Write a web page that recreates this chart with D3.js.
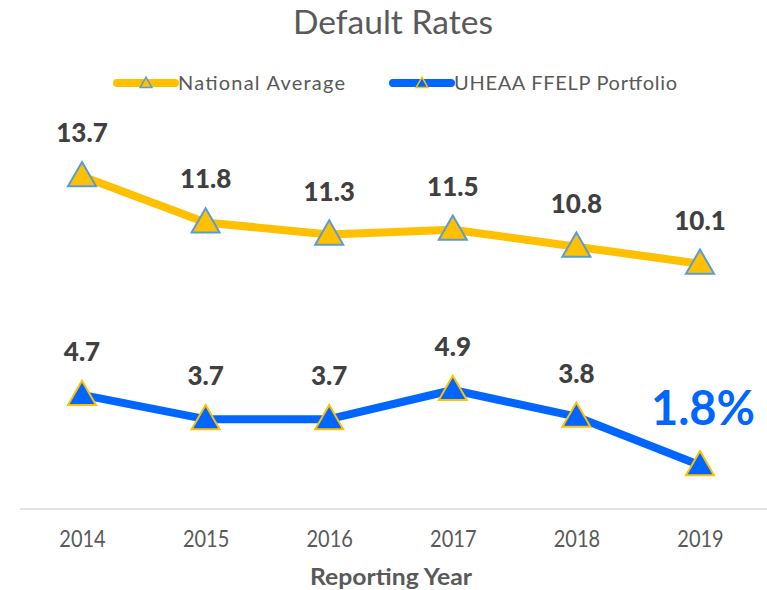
<!DOCTYPE html>
<html><head><meta charset="utf-8">
<script src="https://cdn.jsdelivr.net/npm/d3@7"></script>
<style>body{margin:0;background:#fff}svg{display:block}</style>
</head><body>
<svg id="c" width="767" height="590"></svg>
<script>
const years = ["2014","2015","2016","2017","2018","2019"];
const nationalAverage = [13.7, 11.8, 11.3, 11.5, 10.8, 10.1];
const uheaaPortfolio = [4.7, 3.7, 3.7, 4.9, 3.8, 1.8];
const seriesNames = ["National Average", "UHEAA FFELP Portfolio"];

const W = 767, H = 590;
const svg = d3.select("#c");
const font = "Lato, 'Open Sans', sans-serif";
const YEL = "#FFC000", BLU = "#0066FF", TRI_Y = "#5B9BD5";

const x = d3.scalePoint().domain(years).range([82, 700]);
const y = d3.scaleLinear().domain([0, 16]).range([509, 120.4]);

// baseline
svg.append("line").attr("x1", 20).attr("x2", 767).attr("y1", y(0)).attr("y2", y(0))
  .attr("stroke", "#d9d9d9").attr("stroke-width", 1.5);

// x axis labels
const xAxis = d3.axisBottom(x).tickSize(0).tickPadding(0);
const gx = svg.append("g").attr("transform", `translate(0,${y(0)})`).call(xAxis);
gx.select(".domain").remove();
gx.selectAll("text").attr("font-family", font).attr("font-size", 20).attr("fill", "#595959")
  .attr("dy", null).attr("y", 0)
  .attr("transform", "translate(0,38) scale(1,1.15)");

svg.append("text").attr("x", 391).attr("y", 585).attr("text-anchor", "middle")
  .attr("font-family", font).attr("font-size", 22).attr("font-weight", "bold")
  .attr("textLength", 162).attr("lengthAdjust", "spacingAndGlyphs")
  .attr("fill", "#595959").text("Reporting Year");

// title
svg.append("text").attr("x", 393).attr("y", 34).attr("text-anchor", "middle")
  .attr("font-family", font).attr("font-size", 33).attr("textLength", 200)
  .attr("lengthAdjust", "spacingAndGlyphs").attr("fill", "#595959").text("Default Rates");

const line = d3.line().x((d, i) => x(years[i])).y(d => y(d));
const tri = d3.symbol().type(d3.symbolTriangle).size(340);
const triSmall = d3.symbol().type(d3.symbolTriangle).size(60);

function series(vals, color, markStroke) {
  svg.append("path").datum(vals).attr("d", line).attr("fill", "none")
    .attr("stroke", color).attr("stroke-width", 8).attr("stroke-linejoin", "round");
  svg.selectAll(null).data(vals).enter().append("path")
    .attr("d", tri).attr("transform", (d, i) => `translate(${x(years[i])},${y(d) + 2})`)
    .attr("fill", color).attr("stroke", markStroke).attr("stroke-width", 2);
}
series(nationalAverage, YEL, TRI_Y);
series(uheaaPortfolio, BLU, YEL);

// data labels
function labels(vals, last) {
  svg.selectAll(null).data(vals).enter().append("text")
    .attr("x", (d, i) => x(years[i])).attr("y", d => y(d) - 34)
    .attr("text-anchor", "middle").attr("font-family", font).attr("font-weight", 900)
    .attr("font-size", 26).attr("fill", "#404040")
    .text((d, i) => (last && i === vals.length - 1) ? "" : d.toFixed(1));
}
labels(nationalAverage, false);
labels(uheaaPortfolio, true);
const lastV = uheaaPortfolio[uheaaPortfolio.length - 1];
svg.append("text").attr("x", x(years[years.length - 1]) + 3).attr("y", y(lastV) - 40)
  .attr("text-anchor", "middle").attr("font-family", font).attr("font-weight", "bold")
  .attr("font-size", 47).attr("fill", BLU).text(lastV.toFixed(1) + "%");

// legend
const leg = [
  {name: seriesNames[0], color: YEL, stroke: TRI_Y, x0: 117, len: 167},
  {name: seriesNames[1], color: BLU, stroke: YEL, x0: 393, len: 223}
];
leg.forEach(l => {
  svg.append("line").attr("x1", l.x0).attr("x2", l.x0 + 58).attr("y1", 83).attr("y2", 83)
    .attr("stroke", l.color).attr("stroke-width", 8).attr("stroke-linecap", "round");
  svg.append("path").attr("d", triSmall).attr("transform", `translate(${l.x0 + 29},84)`)
    .attr("fill", l.color).attr("stroke", l.stroke).attr("stroke-width", 1.5);
  svg.append("text").attr("x", l.x0 + 61).attr("y", 90).attr("font-family", font)
    .attr("font-size", 20).attr("textLength", l.len).attr("lengthAdjust", "spacing")
    .attr("fill", "#595959").text(l.name);
});
</script>
</body></html>
